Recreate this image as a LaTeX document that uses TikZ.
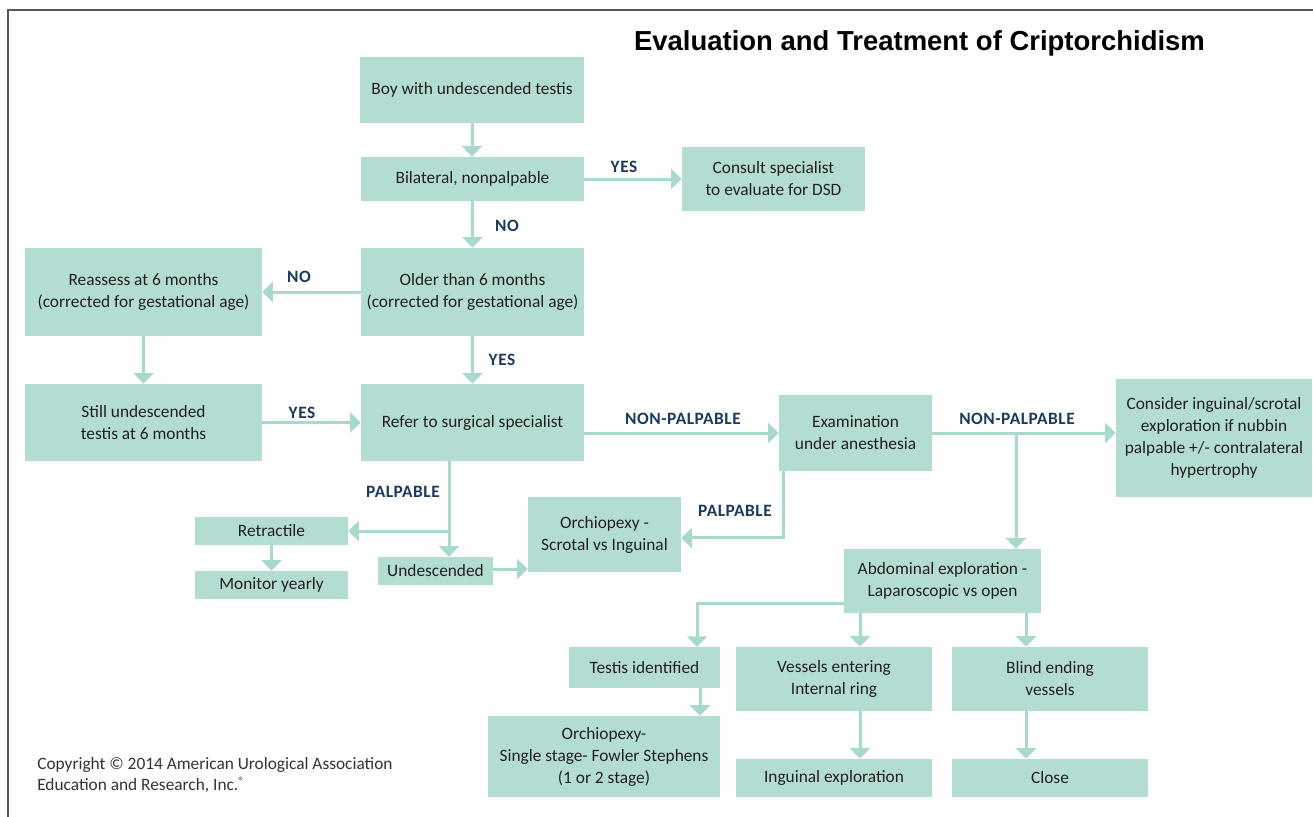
\documentclass[tikz,border=0pt]{standalone}
\usepackage{fontspec}
\setmainfont{Carlito}
\newfontfamily\titlefont{Liberation Sans}
\newfontfamily\labfont{Carlito}[LetterSpace=3]
\usetikzlibrary{arrows.meta,calc}
\definecolor{boxc}{HTML}{B3DDD3}
\definecolor{arrc}{HTML}{A9D8CD}
\definecolor{txt}{HTML}{231F20}
\definecolor{lab}{HTML}{1B3A5C}
\definecolor{frame}{HTML}{555555}
\tikzset{
  bx/.style 2 args={fill=boxc, draw=none, align=center, inner sep=0pt, text=txt,
    font=\fontsize{13pt}{16.5pt}\selectfont,
    minimum width=#1*0.75pt, minimum height=#2*0.75pt},
  arr/.style={draw=arrc, line width=2.25pt, -{Triangle[width=15pt,length=8pt]}},
  lbl/.style={text=lab, font=\labfont\fontsize{13pt}{14pt}\selectfont\bfseries, inner sep=0pt},
}
\begin{document}
\begin{tikzpicture}[x=0.75pt,y=-0.75pt]
\useasboundingbox (0,0) rectangle (1313,817);
\fill[white] (0,0) rectangle (1313,817);
\draw[frame, line width=1.5pt] (1313,10) -- (8,10) -- (8,817);
\node[text=black, font=\titlefont\fontsize{20.6pt}{24pt}\selectfont\bfseries, inner sep=0pt] (title) at (919.5,43) {Evaluation and Treatment of Criptorchidism};

\node[bx={224}{66}] (boy) at (472,90) {Boy with undescended testis};
\node[bx={223}{44}] (bil) at (472.5,179) {Bilateral, nonpalpable};
\node[bx={183}{64}] (con) at (773.5,179) {Consult specialist\\to evaluate for DSD};
\node[bx={223}{88}] (old) at (472.5,292) {Older than 6 months\\(corrected for gestational age)};
\node[bx={237}{88}] (rea) at (143.5,292) {Reassess at 6 months\\(corrected for gestational age)};
\node[bx={237}{77}] (sti) at (143.5,422.5) {Still undescended\\testis at 6 months};
\node[bx={223}{77}] (ref) at (472.5,422.5) {Refer to surgical specialist};
\node[bx={153}{76}] (exa) at (855.5,433) {Examination\\under anesthesia};
\node[bx={196}{118}] (cns) at (1214,438) {Consider inguinal/scrotal\\exploration if nubbin\\palpable +/- contralateral\\hypertrophy};
\node[bx={153}{28}] (ret) at (271.5,531) {Retractile};
\node[bx={153}{28}] (mon) at (271.5,585) {Monitor yearly};
\node[bx={115}{28}] (und) at (435.5,571) {Undescended};
\node[bx={153}{75}] (orc) at (604.5,534.5) {Orchiopexy -\\Scrotal vs Inguinal};
\node[bx={197}{64}] (abd) at (942.5,581) {Abdominal exploration -\\Laparoscopic vs open};
\node[bx={151}{41}] (tes) at (644.5,667.5) {Testis identified};
\node[bx={196}{64}] (ves) at (834,679) {Vessels entering\\Internal ring};
\node[bx={196}{64}] (bli) at (1050,679) {Blind ending\\vessels};
\node[bx={232}{81}] (ors) at (604,756.5) {Orchiopexy-\\Single stage- Fowler Stephens\\(1 or 2 stage)};
\node[bx={196}{38}] (ing) at (834,778) {Inguinal exploration};
\node[bx={196}{38}] (clo) at (1050,778) {Close};

% connectors
\draw[arr] (boy.south) -- (boy.south |- bil.north);
\draw[arr] (bil.east) -- (con.west);
\draw[arr] (bil.south) -- (bil.south |- old.north);
\draw[arr] (old.west) -- (rea.east);
\draw[arr] (old.south) -- (ref.north);
\draw[arr] (rea.south) -- (sti.north);
\draw[arr] (sti.east) -- (ref.west);
\draw[arr] (ref.east |- exa.west) -- (exa.west);
\draw[arr] (exa.east) -- (cns.west |- exa.east);
\coordinate (b1) at (1016,433);
\draw[arr] (b1) -- (b1 |- abd.north);
\coordinate (e1) at (783,471);
\draw[arr] (e1) |- ([yshift=-2.6pt]orc.east);
\coordinate (p1) at (449,461);
\draw[arr] (p1) -- (p1 |- und.north);
\coordinate (p2) at (449,531);
\draw[arr] (p2) -- (ret.east);
\draw[arr] ([yshift=1.5pt]und.east) -- ([yshift=1.5pt]und.east -| orc.west);
\draw[arr] (ret.south) -- (mon.north);
\coordinate (a1) at (844,603);
\coordinate (a2) at (697,647);
\draw[arr] (a1) -| (a2);
\coordinate (a3) at (860,613);
\draw[arr] (a3) -- (a3 |- ves.north);
\coordinate (a4) at (1026,613);
\draw[arr] (a4) -- (a4 |- bli.north);
\coordinate (t1) at (700,688);
\draw[arr] (t1) -- (t1 |- ors.north);
\coordinate (v1) at (860,711);
\draw[arr] (v1) -- (v1 |- ing.north);
\coordinate (c1) at (1026,711);
\draw[arr] (c1) -- (c1 |- clo.north);

% labels
\node[lbl] (l1) at (624,167) {YES};
\node[lbl] (l2) at (507,226) {NO};
\node[lbl] (l3) at (299,277) {NO};
\node[lbl] (l4) at (502,360) {YES};
\node[lbl] (l5) at (302,413) {YES};
\node[lbl] (l6) at (683,419) {NON-PALPABLE};
\node[lbl] (l7) at (1017,419) {NON-PALPABLE};
\node[lbl] (l8) at (403,492) {PALPABLE};
\node[lbl] (l9) at (735,511) {PALPABLE};

\node[anchor=west, align=left, text=black!80, inner sep=0pt, font=\fontsize{13pt}{15.75pt}\selectfont] (copy) at (37,775.5) {Copyright \textcopyright{} 2014 American Urological Association\\Education and Research, Inc.\textsuperscript{\textregistered}};
\end{tikzpicture}
\end{document}
